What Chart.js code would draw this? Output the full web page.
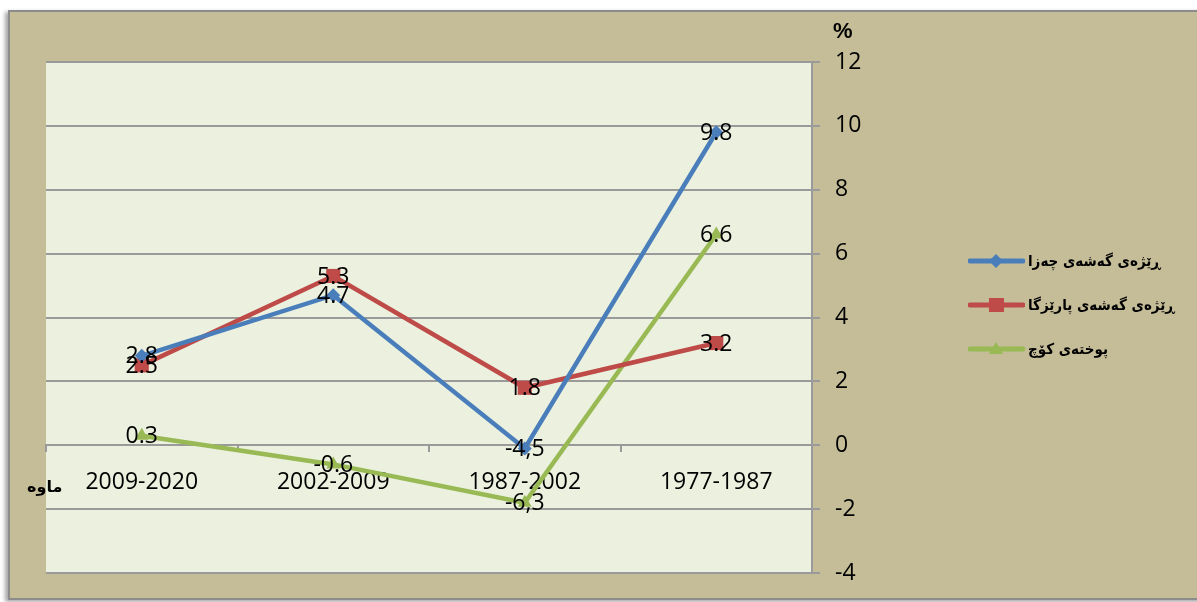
<!DOCTYPE html>
<html>
<head>
<meta charset="utf-8">
<script src="https://cdn.jsdelivr.net/npm/chart.js@4"></script>
<style>
    body { margin: 0; background: #fff; width: 1197px; height: 602px; overflow: hidden; position: relative; }
    .frame {
        position: absolute; left: 8px; top: 10px; width: 1210px; height: 586px;
        background: #c4bd97; border: 2px solid #8c8c8c;
        box-shadow: -3px 2px 4px rgba(0, 0, 0, 0.35);
    }
    #chart { position: absolute; left: 0; top: 0; }
    .legend { position: absolute; left: 968px; top: 239px; width: 225px; font-family: "DejaVu Sans Condensed", "DejaVu Sans", sans-serif; font-weight: bold; font-size: 15px; color: #000; }
    .legend .row { display: flex; align-items: center; height: 44px; white-space: nowrap; }
    .legend .row span { direction: rtl; margin-left: 3px; white-space: nowrap; }
    .note { position: absolute; font-family: "DejaVu Sans", sans-serif; font-weight: bold; color: #000; }
</style>
</head>
<body>
<div class="frame"></div>
<canvas id="chart" width="1197" height="602"></canvas>
<div class="note" style="left:833px; top:18px; font-family:'Liberation Sans'; font-size:22px;">%</div>
<div class="note" style="left:27px; top:477px; font-size:16px;" dir="rtl">ماوه</div>
<div class="legend" id="legend"></div>
<script>
document.addEventListener("DOMContentLoaded", () => {
    // periods on the x axis
    const periods = ["2009-2020", "2002-2009", "1987-2002", "1977-1987"];

    // series values
    const birthRate = [2.8, 4.7, -0.1, 9.8];
    const provinceRate = [2.5, 5.3, 1.8, 3.2];
    const migration = [0.3, -0.6, -1.8, 6.6];

    // label text printed next to each point
    const birthLabels = ["2.8", "4.7", "-4,5", "9.8"];
    const provinceLabels = ["2.5", "5.3", "1.8", "3.2"];
    const migrationLabels = ["0.3", "-0.6", "-6,3", "6.6"];

    const seriesNames = ["ڕێژەی گەشەی چەزا", "ڕێژەی گەشەی پارێزگا", "پوختەی کۆچ"];
    const yTicks = [-4, -2, 0, 2, 4, 6, 8, 10, 12];

    const colors = ["#4a7ebb", "#be4b48", "#98b954"];
    const gridColor = "#9a9a9a";
    const font = "Open Sans";

    // plot area fill
    const plotBg = {
        id: "plotBg",
        beforeDraw(chart) {
            const { ctx, chartArea: a } = chart;
            ctx.save();
            ctx.fillStyle = "#ebf1de";
            ctx.fillRect(a.left, a.top, a.right - a.left, a.bottom - a.top);
            ctx.restore();
        }
    };

    // value labels centred on the points
    const pointLabels = {
        id: "pointLabels",
        afterDatasetsDraw(chart) {
            const ctx = chart.ctx;
            ctx.save();
            ctx.font = "23px '" + font + "'";
            ctx.fillStyle = "#000";
            ctx.textAlign = "center";
            ctx.textBaseline = "middle";
            chart.data.datasets.forEach((ds, i) => {
                chart.getDatasetMeta(i).data.forEach((pt, j) => {
                    ctx.fillText(ds.labelsText[j], pt.x, pt.y + 1);
                });
            });
            ctx.restore();
        }
    };

    const makeSet = (name, values, labels, color, style, radius) => ({
        label: name,
        data: values,
        labelsText: labels,
        borderColor: color,
        backgroundColor: color,
        borderWidth: 4.5,
        pointStyle: style,
        pointRadius: radius,
        pointHoverRadius: radius,
        pointBorderWidth: 0,
        tension: 0,
    });

    new Chart(document.getElementById("chart").getContext("2d"), {
        type: "line",
        data: {
            labels: periods,
            datasets: [
                makeSet(seriesNames[0], birthRate, birthLabels, colors[0], "rectRot", 7),
                makeSet(seriesNames[1], provinceRate, provinceLabels, colors[1], "rect", 10),
                makeSet(seriesNames[2], migration, migrationLabels, colors[2], "triangle", 8),
            ]
        },
        options: {
            responsive: false,
            animation: false,
            layout: { padding: { left: 46, top: 62, bottom: 29, right: 325 } },
            plugins: {
                legend: { display: false },
                tooltip: { enabled: false },
            },
            scales: {
                x: {
                    position: { y: 0 },
                    offset: true,
                    grid: {
                        offset: true,
                        drawOnChartArea: false,
                        drawTicks: true,
                        tickLength: 6,
                        color: gridColor,
                        lineWidth: 2,
                    },
                    border: { color: gridColor, width: 2 },
                    ticks: {
                        color: "#000",
                        font: { family: font, size: 23 },
                        padding: 17,
                        maxRotation: 0,
                    },
                },
                y: {
                    position: "right",
                    min: -4,
                    max: 12,
                    afterBuildTicks: scale => { scale.ticks = yTicks.map(v => ({ value: v })); },
                    afterFit: scale => { scale.width = 60; },
                    grid: {
                        color: gridColor,
                        lineWidth: 2,
                        tickLength: 8,
                    },
                    border: { color: gridColor, width: 2 },
                    ticks: {
                        color: "#000",
                        font: { family: font, size: 23 },
                        padding: 15,
                    },
                },
            },
        },
        plugins: [plotBg, pointLabels],
    });

    // legend: line with marker, then the series name
    const markers = [
        '<path d="M28 0 L35 7 L28 14 L21 7 Z" fill="' + colors[0] + '"/>',
        '<rect x="21" y="0" width="15" height="14" fill="' + colors[1] + '"/>',
        '<path d="M28 0 L35 12 L21 12 Z" fill="' + colors[2] + '"/>',
    ];
    const legend = document.getElementById("legend");
    seriesNames.forEach((name, i) => {
        const row = document.createElement("div");
        row.className = "row";
        row.innerHTML =
            '<svg width="57" height="14"><line x1="2" y1="7" x2="55" y2="7" stroke="' + colors[i] +
            '" stroke-width="5" stroke-linecap="round"/>' + markers[i] + '</svg><span>' + name + '</span>';
        legend.appendChild(row);
    });
});
</script>
</body>
</html>
